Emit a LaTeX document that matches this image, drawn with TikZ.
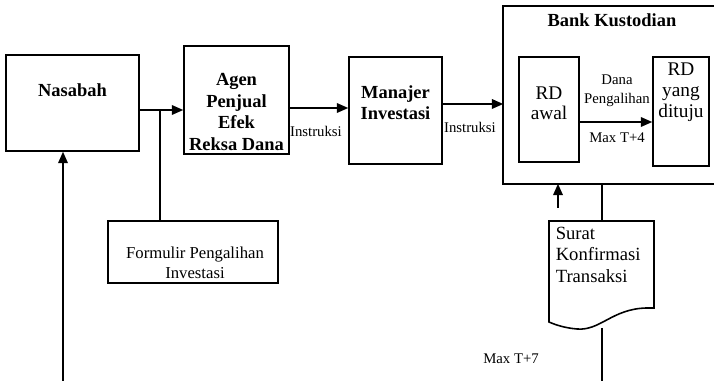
\documentclass[tikz,border=0pt]{standalone}
\usepackage{fontspec}
\setmainfont{Liberation Serif}
\usetikzlibrary{arrows.meta}
\tikzset{
  box/.style={draw, line width=0.9pt, inner sep=0pt},
  boxtext/.style={align=center, inner sep=0pt, font=\bfseries\fontsize{10.5}{12.3}\selectfont},
  rdtext/.style={align=center, inner sep=0pt, font=\fontsize{11}{12.1}\selectfont},
  note/.style={align=center, inner sep=0pt, font=\fontsize{8.4}{10.8}\selectfont},
}

\begin{document}
\begin{tikzpicture}[x=0.02cm, y=-0.02cm, line width=0.9pt, >={Triangle[length=6.5pt,width=5.5pt]}]
	\useasboundingbox (0,0) rectangle (714,381);
	\node[box, minimum width=2.66cm, minimum height=1.92cm] (nasabah) at (72.5,103) {};
	\node[boxtext] (nasabahtxt) at (72.5,90) {Nasabah};
	\node[box, minimum width=2.1cm, minimum height=2.16cm] (agen) at (236.5,100) {};
	\node[boxtext] (agentxt) at (236.5,112) {Agen\\Penjual\\Efek\\Reksa Dana};
	\node[box, minimum width=1.86cm, minimum height=2.14cm] (manajer) at (395.5,110.5) {};
	\node[boxtext] (manajertxt) at (395.5,102.5) {Manajer\\Investasi};
	\node[box, minimum width=3.4cm, minimum height=1.24cm] (formulir) at (193,252) {};
	\node[note, font=\fontsize{9.5}{11.3}\selectfont] (formulirtxt) at (195,263) {Formulir Pengalihan\\Investasi};

	\node[minimum width=4.2cm, minimum height=3.52cm, inner sep=0pt] (bank) at (609,95) {};
	\draw (bank.north east) -- (bank.north west) -- (bank.south west) -- (bank.south east);
	\node[boxtext] (banktxt) at (612,20) {Bank Kustodian};
	\node[box, minimum width=1.2cm, minimum height=2.1cm] (rdawal) at (549,109.5) {};
	\node[rdtext, font=\fontsize{11}{11.4}\selectfont] (rdawaltxt) at (549,103) {RD\\awal};
	\node[box, minimum width=1.12cm, minimum height=2.18cm] (rdtuju) at (681,111.5) {};
	\node[rdtext] (rdtujutxt) at (681,92) {RD\\yang\\dituju};
	\draw[->] (rdawal.east |- 0,122) -- (rdtuju.west |- 0,122);
	\node[note] (danatxt) at (617,90.5) {Dana\\Pengalihan};
	\node[note] (maxempat) at (617,138) {Max T+4};

	\coordinate (split) at (160,110);
	\draw[->] (nasabah.east |- split) -- (agen.west |- split);
	\draw (split) -- (split |- formulir.north);
	\draw[->] (agen.east |- 0,108) -- (manajer.west |- 0,108);
	\node[note] (instruksisatu) at (316,131) {Instruksi};
	\draw[->] (manajer.east |- 0,104) -- (bank.west |- 0,104);
	\node[note] (instruksidua) at (470,127) {Instruksi};

	\coordinate (nasbawah) at (63,381);
	\draw[->] (nasbawah) -- (nasbawah |- nasabah.south);

	\coordinate (suratNW) at (549,221);
	\coordinate (suratNE) at (654,221);
	\coordinate (surattop) at (602,221);
	\coordinate (suratbawah) at (602,328);
	\draw (suratNW) -- (suratNE) -- (654,308) -- (646,308)
		.. controls (612,309) and (600,331) .. (577,329)
		.. controls (565,328) and (556,325) .. (549,322) -- cycle;
	\node[anchor=north west, align=left, inner sep=0pt, font=\fontsize{10.6}{12.3}\selectfont] (surat) at (555,226) {Surat\\Konfirmasi\\Transaksi};
	\draw (bank.south -| surattop) -- (surattop);
	\coordinate (konfpanah) at (558,208);
	\draw[->] (konfpanah) -- (konfpanah |- bank.south);
	\coordinate (tujuhbawah) at (602,381);
	\draw (suratbawah) -- (tujuhbawah);
	\node[note] (maxtujuh) at (511,359) {Max T+7};
\end{tikzpicture}
\end{document}
